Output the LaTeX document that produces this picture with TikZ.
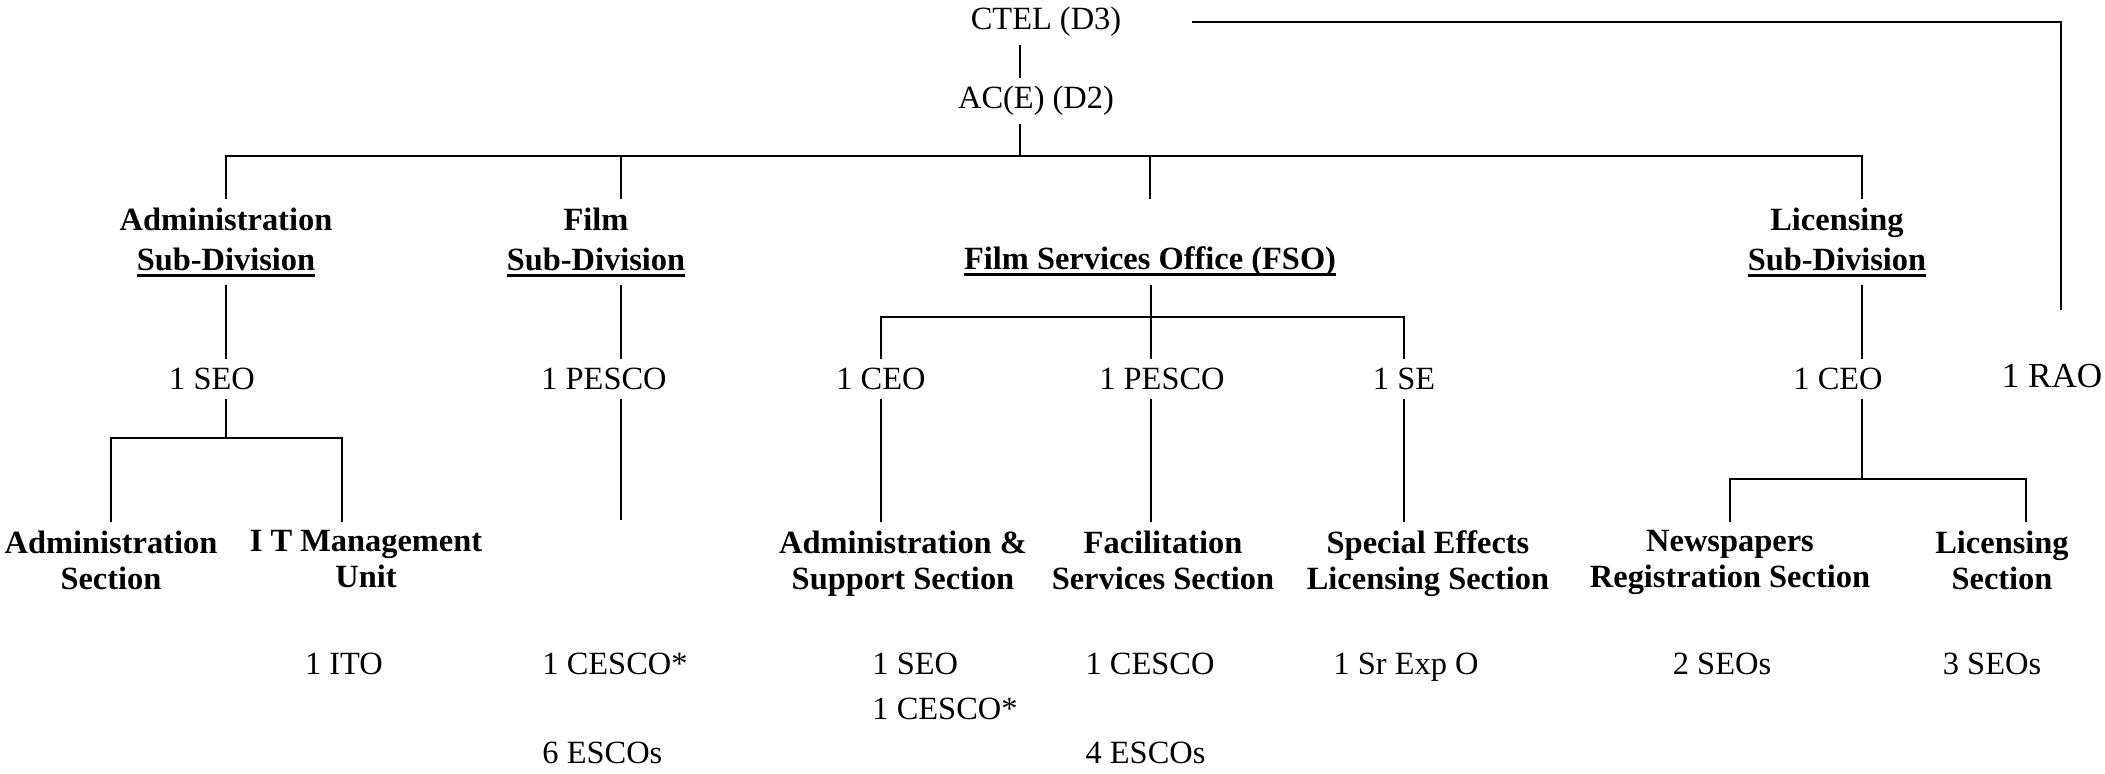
\documentclass[tikz,border=0pt]{standalone}
\usepackage{fontspec}
\setmainfont{Liberation Serif}
\newcommand{\undl}[1]{\setbox0\hbox{#1}\rlap{\rule[-2.4pt]{\wd0}{1pt}}\box0}
\tikzstyle{chief} = [inner sep=3pt, font=\fontsize{12}{14.8}\selectfont]
\tikzstyle{division} = [anchor=north, align=center, inner sep=3pt, font=\fontsize{12}{14.8}\selectfont\bfseries]
\tikzstyle{rank} = [inner sep=3pt, font=\fontsize{12}{14.8}\selectfont]
\tikzstyle{branch} = [anchor=north, align=center, inner sep=3pt, font=\fontsize{12}{13.3}\selectfont\bfseries]
\tikzstyle{staff} = [anchor=north, align=left, inner sep=3pt, font=\fontsize{12}{16.6}\selectfont]
\tikzstyle{link} = [line width=0.7pt]

\begin{document}
\begin{tikzpicture}[x=0.37pt, y=-0.37pt]
	\useasboundingbox (0,0) rectangle (2105,773);

	\node (ctel) [chief] at (1046,22) {CTEL (D3)};
	\node (ace) [chief] at (1036,101) {AC(E) (D2)};
	\node (rao) [rank, font=\fontsize{13}{15}\selectfont] at (2052,376) {1 RAO};

	\coordinate (top) at (1020,156);
	\coordinate (busA) at (226,438);
	\coordinate (filmend) at (621,520);
	\coordinate (busC) at (1151,317);
	\coordinate (busD) at (1862,479);

	\draw [link] (ctel.south -| top) -- (ace.north -| top);
	\draw [link] (ace.south -| top) -- (top);
	\draw [link] ([xshift=23pt]ctel.east) -| ([xshift=3.3pt, yshift=17pt]rao.north);

	\node (admsub) [division] at (226,199) {Administration\\\undl{Sub-Division}};
	\node (filmsub) [division] at (596,199) {Film\\\undl{Sub-Division}};
	\node (fso) [division] at (1150,199) {\vphantom{A}\\\undl{Film Services Office (FSO)}};
	\node (licsub) [division] at (1837,199) {Licensing\\\undl{Sub-Division}};

	\draw [link] (top) -| (admsub.north);
	\draw [link] (top) -| (filmsub.north -| filmend);
	\draw [link] (top) -| (fso.north);
	\draw [link] (top) -| (licsub.north -| busD);

	\node (seoA) [rank] at (212,379) {1 SEO};
	\node (pescoB) [rank] at (604,379) {1 PESCO};
	\node (ceoC) [rank] at (881,379) {1 CEO};
	\node (pescoC) [rank] at (1162,379) {1 PESCO};
	\node (seC) [rank] at (1404,379) {1 SE};
	\node (ceoD) [rank] at (1838,379) {1 CEO};

	\draw [link] (admsub.south -| busA) -- (seoA.north -| busA);
	\draw [link] (filmsub.south -| filmend) -- (pescoB.north -| filmend);
	\draw [link] (fso.south -| busC) -- (pescoC.north -| busC);
	\draw [link] (ceoC) |- (busC) -| (seC);
	\draw [link] (licsub.south -| busD) -- (ceoD.north -| busD);

	\node (admsec) [branch] at (111,522) {Administration\\Section};
	\node (itunit) [branch] at (366,522) {I T Management\\Unit};
	\node (admsup) [branch] at (903,522) {Administration \&\\Support Section};
	\node (facil) [branch] at (1163,522) {Facilitation\\Services Section};
	\node (special) [branch] at (1428,522) {Special Effects\\Licensing Section};
	\node (news) [branch] at (1730,522) {Newspapers\\Registration Section};
	\node (licsec) [branch] at (2002,522) {Licensing\\Section};

	\draw [link] (seoA.south -| busA) -- (busA) -| (admsec);
	\draw [link] (busA) -| ([xshift=-9pt]itunit.north);
	\draw [link] (pescoB.south -| filmend) -- (filmend);
	\draw [link] (ceoC) -- (ceoC |- admsup.north);
	\draw [link] (pescoC.south -| busC) -- (facil.north -| busC);
	\draw [link] (seC) -- (seC |- special.north);
	\draw [link] (ceoD.south -| busD) -- (busD) -| (news);
	\draw [link] (busD) -| ([xshift=9pt]licsec.north);

	\node (itocnt) [staff] at (344,644) {1 ITO};
	\node (filmcnt) [staff] at (615,644) {1 CESCO*\\[16.6pt]6 ESCOs};
	\node (admcnt) [staff] at (945,644) {1 SEO\\1 CESCO*};
	\node (faccnt) [staff] at (1150,644) {1 CESCO\\[16.6pt]4 ESCOs};
	\node (srcnt) [staff] at (1406,644) {1 Sr Exp O};
	\node (newscnt) [staff] at (1722,644) {2 SEOs};
	\node (liccnt) [staff] at (1992,644) {3 SEOs};
\end{tikzpicture}
\end{document}
